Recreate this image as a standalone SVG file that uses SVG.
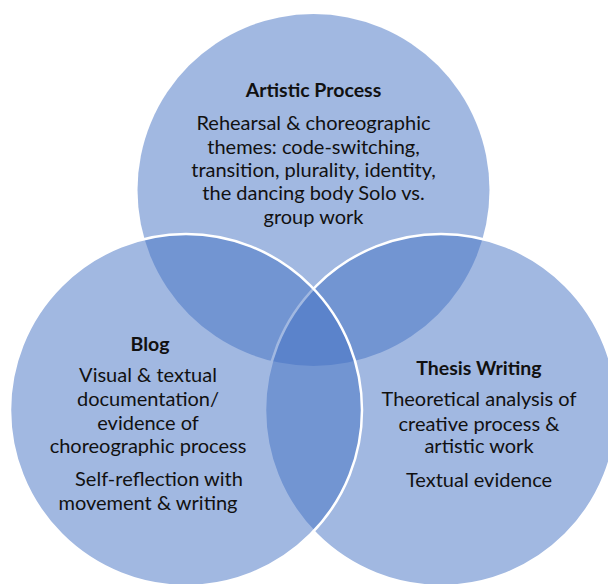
<svg xmlns="http://www.w3.org/2000/svg" width="608" height="584" viewBox="0 0 608 584">
  <style>
    .set { fill: #4472C4; fill-opacity: 0.5; }
    .edge { stroke: #FFFFFF; stroke-width: 2.5; }
    text { font-family: "Lato", "Liberation Sans", sans-serif; font-size: 20px; fill: #111111; text-anchor: middle; }
    .title { font-weight: bold; font-size: 19.5px; }
  </style>
  <rect width="608" height="584" fill="#FFFFFF"/>

  <!-- Artistic Process (drawn first, sits underneath) -->
  <g id="artistic-process">
    <circle class="set" cx="313.5" cy="190" r="176"/>
    <text class="title" x="313.5" y="97">Artistic Process</text>
    <text x="313.5" y="130">Rehearsal &amp; choreographic</text>
    <text x="313.5" y="154">themes: code-switching,</text>
    <text x="313.5" y="177">transition, plurality, identity,</text>
    <text x="313.5" y="200">the dancing body Solo vs.</text>
    <text x="313.5" y="224">group work</text>
  </g>

  <!-- Thesis Writing -->
  <g id="thesis-writing">
    <circle class="set edge" cx="441" cy="410" r="176"/>
    <text class="title" x="479" y="375">Thesis Writing</text>
    <text x="479" y="406">Theoretical analysis of</text>
    <text x="479" y="431">creative process &amp;</text>
    <text x="479" y="453">artistic work</text>
    <text x="479" y="487">Textual evidence</text>
  </g>

  <!-- Blog (topmost) -->
  <g id="blog">
    <circle class="set edge" cx="186" cy="410" r="176"/>
    <text class="title" x="150" y="351">Blog</text>
    <text x="148" y="382">Visual &amp; textual</text>
    <text x="148" y="406">documentation/</text>
    <text x="148" y="430">evidence of</text>
    <text x="148" y="453">choreographic process</text>
    <text x="159" y="486">Self-reflection with</text>
    <text x="148" y="510">movement &amp; writing</text>
  </g>

  <g id="connectors"/>
</svg>
